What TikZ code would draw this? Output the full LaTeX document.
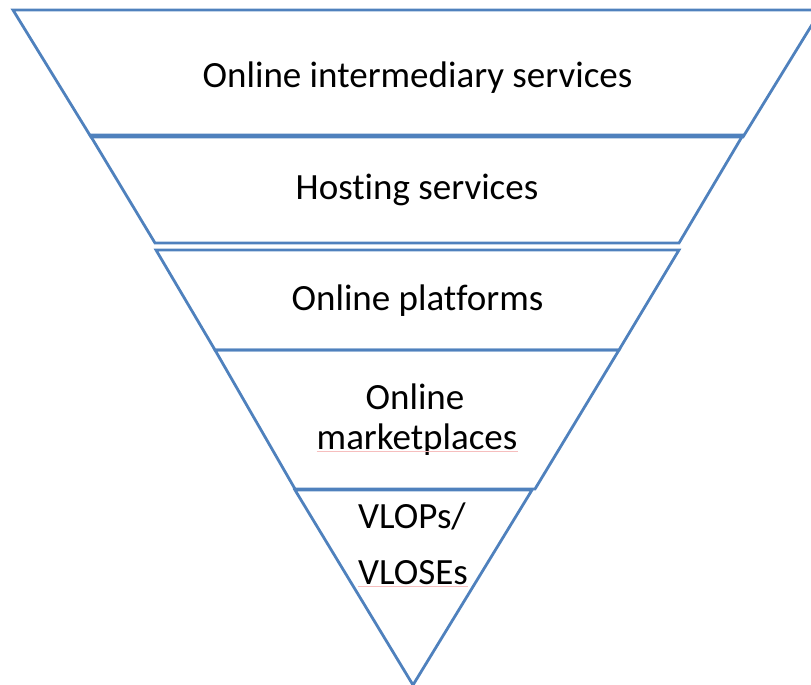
\documentclass[tikz,border=0pt]{standalone}
\usepackage{fontspec}
\setmainfont{Carlito}[Ligatures=NoCommon]
\definecolor{tierblue}{RGB}{79,129,189}
\definecolor{spellred}{RGB}{246,190,190}
\begin{document}
\begin{tikzpicture}[x=1pt,y=-1pt,
  tier/.style={draw=tierblue,line width=2.8pt,line join=miter},
  label/.style={anchor=base,inner sep=0pt,font=\fontsize{37}{44}\selectfont},
  squiggle/.style={draw=spellred,line width=1pt}]
\useasboundingbox (0,0) rectangle (811,685);
\clip (0,0) rectangle (811,685);
% five stacked tiers of the funnel
\draw[tier] (13,10) -- (821,10) -- (743,137) -- (91,137) -- cycle;
\draw[tier] (90,135) -- (743,135) -- (679,243) -- (155,243) -- cycle;
\draw[tier] (156,250) -- (679,250) -- (619,350) -- (215,350) -- cycle;
\draw[tier] (215,350) -- (619,350) -- (535,489) -- (295,489) -- cycle;
\draw[tier] (295,490) -- (532,490) -- (413,685) -- cycle;
% tier labels
\node[label] (t1) at (417.5,88) {Online intermediary services};
\node[label] (t2) at (417,199) {Hosting services};
\node[label] (t3) at (417.5,310) {Online platforms};
\node[label] (t4a) at (415,409) {Online};
\node[label] (t4b) at (417,449) {marketplaces};
\node[label] (t5a) at (412,528) {VLOPs/};
\node[label] (t5b) at (413,584) {VLOSEs};
% proofing marks under unknown words
\draw[squiggle] ([yshift=-2.5pt]t4b.base west) -- ([yshift=-2.5pt]t4b.base east);
\draw[squiggle] ([yshift=-2pt]t5b.base west) -- ([yshift=-2pt]t5b.base east);
\end{tikzpicture}
\end{document}
